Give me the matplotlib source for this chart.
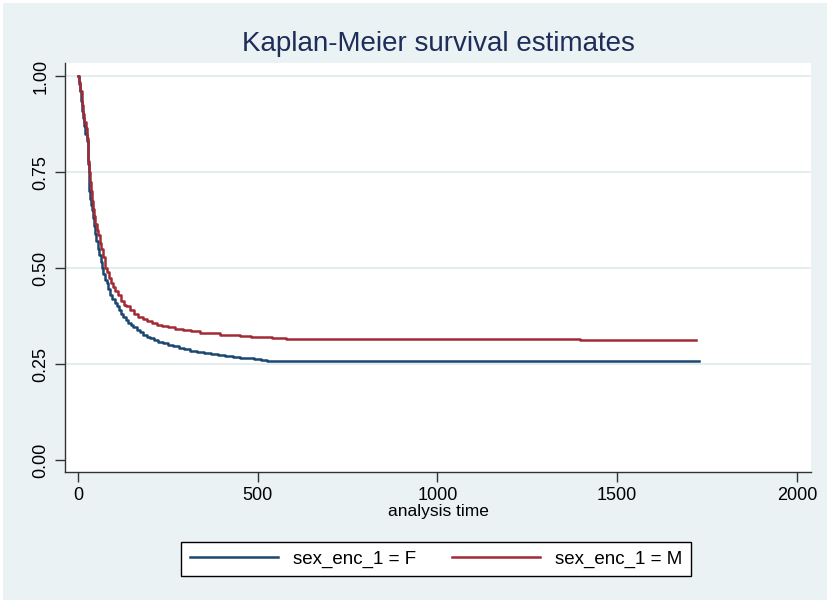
import matplotlib.pyplot as plt
from matplotlib.patches import Rectangle

plt.rcParams['font.family'] = ['Liberation Sans', 'DejaVu Sans']

# Kaplan-Meier estimates (time, survival)
time_f = [0, 3, 6, 9, 12, 15, 18, 21, 24, 27, 29, 31, 32, 34, 36, 38, 41, 44, 47, 51, 55,
          59, 63, 67, 71, 76, 80, 84, 90, 96, 102, 108, 114, 120, 126, 133, 140, 147, 154,
          163, 172, 181, 191, 200, 212, 224, 237, 250, 265, 280, 296, 312, 330, 350, 370,
          390, 410, 430, 450, 470, 490, 510, 525, 1727]
surv_f = [1.0, 0.98, 0.96, 0.935, 0.91, 0.89, 0.87, 0.85, 0.83, 0.80, 0.77, 0.73, 0.70,
          0.68, 0.665, 0.65, 0.63, 0.61, 0.59, 0.57, 0.55, 0.535, 0.515, 0.50, 0.485, 0.47,
          0.46, 0.445, 0.43, 0.42, 0.41, 0.40, 0.39, 0.38, 0.373, 0.365, 0.358, 0.352,
          0.347, 0.34, 0.333, 0.327, 0.321, 0.318, 0.313, 0.308, 0.304, 0.30, 0.296, 0.292,
          0.289, 0.285, 0.282, 0.278, 0.275, 0.273, 0.271, 0.269, 0.267, 0.265, 0.263,
          0.261, 0.258, 0.258]
time_m = [0, 3, 6, 10, 14, 18, 22, 25, 27, 29, 31, 33, 35, 38, 41, 44, 48, 52, 56, 60, 65,
          70, 75, 80, 86, 92, 98, 104, 112, 120, 128, 135, 145, 156, 168, 180, 192, 205, 220,
          235, 250, 270, 293, 315, 340, 365, 395, 420, 451, 480, 506, 540, 580, 1396, 1719]
surv_m = [1.0, 0.985, 0.96, 0.925, 0.90, 0.88, 0.865, 0.84, 0.815, 0.78, 0.75, 0.725, 0.70,
          0.675, 0.655, 0.635, 0.615, 0.60, 0.585, 0.565, 0.55, 0.53, 0.50, 0.49, 0.475,
          0.46, 0.45, 0.44, 0.43, 0.415, 0.405, 0.40, 0.39, 0.38, 0.372, 0.367, 0.362,
          0.357, 0.352, 0.349, 0.346, 0.342, 0.339, 0.335, 0.332, 0.33, 0.327, 0.325, 0.323,
          0.321, 0.3195, 0.318, 0.315, 0.3125, 0.3125]

labels = ['sex_enc_1 = F', 'sex_enc_1 = M']
xticks = [0, 500, 1000, 1500, 2000]
yticks = [0.0, 0.25, 0.5, 0.75, 1.0]

bg = '#EAF2F3'
navy = '#1A476F'
maroon = '#A12A35'

fig = plt.figure(figsize=(8.3, 6.03), dpi=100, facecolor='white')
fig.patches.append(Rectangle((3 / 830, 3 / 603), 824 / 830, 597 / 603,
                             transform=fig.transFigure, facecolor=bg, edgecolor='none',
                             zorder=-10))

ax = fig.add_axes([65 / 830, 1 - 472 / 603, 746 / 830, 409 / 603])
ax.set_zorder(5)
ax.set_facecolor('white')

ax.plot(time_f, surv_f, drawstyle='steps-post', color=navy, lw=1.8, label=labels[0])
ax.plot(time_m, surv_m, drawstyle='steps-post', color=maroon, lw=1.8, label=labels[1])

ax.set_xlim(-36, 2039)
ax.set_ylim(-0.031, 1.034)
ax.set_xticks(xticks)
ax.set_xticklabels([str(t) for t in xticks], fontsize=13)
ax.set_yticks(yticks)
ax.set_yticklabels(['%.2f' % v for v in yticks], fontsize=13, rotation=90, va='center')
ax.tick_params(direction='out', length=7, width=1, color='#333333', pad=4)
for y in yticks[1:]:
    ax.axhline(y, color='#DDEBEE', lw=1.2, zorder=0)

for s in ['top', 'right']:
    ax.spines[s].set_visible(False)
for s in ['left', 'bottom']:
    ax.spines[s].set_color('#333333')
    ax.spines[s].set_linewidth(1)

ax.set_xlabel('analysis time', fontsize=12.5, labelpad=0)
fig.text(438 / 830, 1 - 44 / 603, 'Kaplan-Meier survival estimates', ha='center', va='center',
         fontsize=20, color='#1E2D5A')

leg = fig.legend(loc='center', bbox_to_anchor=(436 / 830, 1 - 559 / 603), ncol=2,
                 fontsize=13.5, handlelength=4.7, columnspacing=1.9, frameon=True,
                 fancybox=False, edgecolor='black', facecolor='white', framealpha=1,
                 borderpad=0.45, handletextpad=0.8)
leg.get_frame().set_linewidth(1)
leg.set_zorder(6)

fig.savefig('out.png', dpi=100, facecolor=fig.get_facecolor())
